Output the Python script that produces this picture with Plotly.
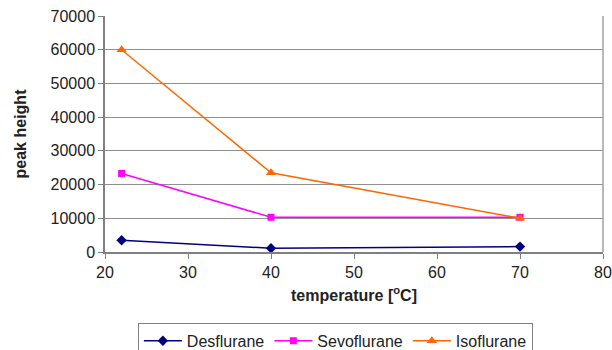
import plotly.graph_objects as go

temperature = [22, 40, 70]
desflurane = [3500, 1100, 1600]
sevoflurane = [23300, 10300, 10300]
isoflurane = [60000, 23500, 10000]

series = [
    ("Desflurane", desflurane, "#000080", "diamond", 8),
    ("Sevoflurane", sevoflurane, "#FF00FF", "square", 7),
    ("Isoflurane", isoflurane, "#FF6600", "triangle-up", 9),
]

fig = go.Figure()
for name, vals, col, sym, sz in series:
    fig.add_trace(go.Scatter(
        x=temperature, y=vals, name=name, mode="lines+markers",
        line=dict(color=col, width=1.5),
        marker=dict(symbol=sym, size=sz, color=col),
    ))

fig.update_layout(
    width=612, height=350,
    margin=dict(l=105, r=9, t=16, b=98, autoexpand=False),
    paper_bgcolor="white", plot_bgcolor="white",
    font=dict(family="Liberation Sans, Arial, sans-serif", size=16, color="#222"),
    xaxis=dict(
        range=[20, 80], dtick=10, showgrid=False, automargin=False,
        showline=True, linecolor="#808080", linewidth=1.5, mirror=False,
        ticks="outside", ticklen=5, tickcolor="#808080",
        title=dict(text="<b>temperature [<sup>o</sup>C]</b>", font=dict(size=16), standoff=10),
        zeroline=False,
    ),
    yaxis=dict(
        range=[0, 70000], dtick=10000, tickformat="d", showgrid=True,
        gridcolor="#909090", gridwidth=1, automargin=False,
        showline=True, linecolor="#808080", linewidth=1.5,
        ticks="outside", ticklen=5, tickcolor="#808080",
        title=dict(text="<b>peak height</b>", font=dict(size=16), standoff=20),
        zeroline=False,
    ),
    legend=dict(
        orientation="h", x=0.066, xanchor="left", y=-0.30, yanchor="top",
        bordercolor="#808080", borderwidth=1, font=dict(size=16),
        tracegroupgap=0, itemwidth=38,
    ),
    shapes=[
        dict(type="line", xref="paper", yref="paper", x0=1, x1=1, y0=0, y1=1,
             line=dict(color="#A0A0A0", width=1.5)),
    ],
)

fig.write_html("out.html")
